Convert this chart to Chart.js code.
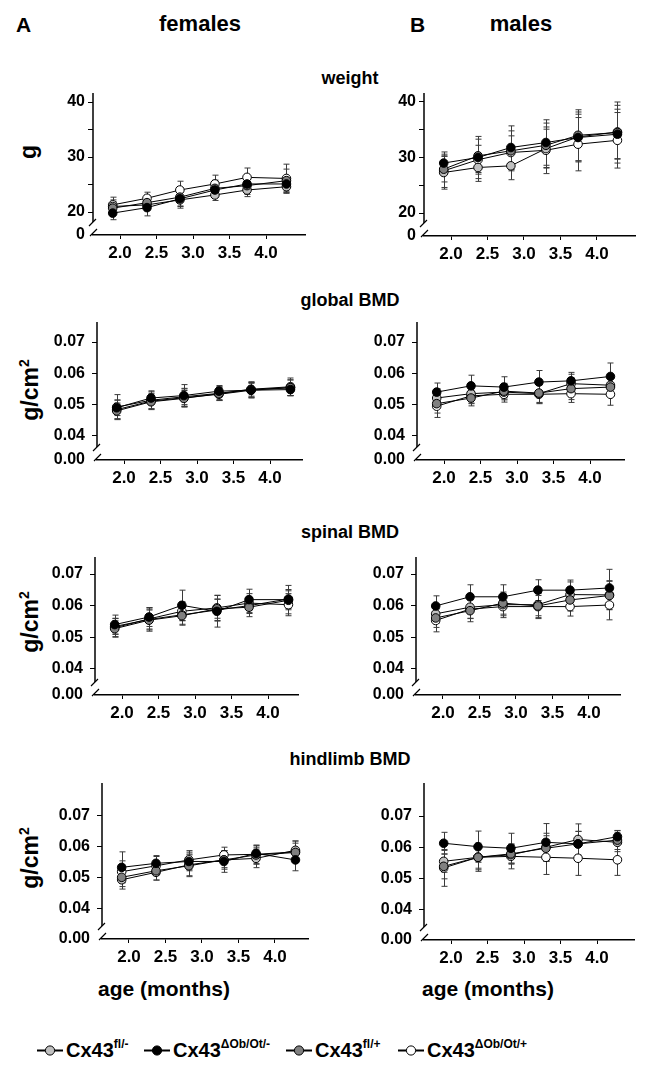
<!DOCTYPE html>
<html>
<head>
<meta charset="utf-8">
<script src="https://cdn.jsdelivr.net/npm/chart.js@4.4.1/dist/chart.umd.min.js"></script>
<style>
  html,body{margin:0;padding:0;background:#fff;}
  #fig{position:relative;width:645px;height:1068px;overflow:hidden;background:#fff;
       font-family:"Liberation Sans",Arial,Helvetica,sans-serif;font-weight:bold;color:#000;}
  .t{position:absolute;white-space:nowrap;line-height:1;transform:translate(-50%,-50%);}
  .tl{position:absolute;white-space:nowrap;line-height:1;transform:translate(0,-50%);}
  .yt{position:absolute;white-space:nowrap;line-height:1;transform:translate(-50%,-50%) rotate(-90deg);font-size:23px;}
  .yt sup{font-size:14px;vertical-align:9px;line-height:0;}
  canvas{position:absolute;}
  .leg{position:absolute;display:flex;align-items:center;font-size:20px;white-space:nowrap;transform:translate(0,-50%);}
  .leg sup{font-size:12px;vertical-align:9px;line-height:0;}
  .leg svg{margin-right:3px;}
</style>
</head>
<body>
<div id="fig">
  <div class="tl" style="left:16px;top:24px;font-size:21px;">A</div>
  <div class="t" style="left:200px;top:24px;font-size:22px;">females</div>
  <div class="tl" style="left:410px;top:24px;font-size:21px;">B</div>
  <div class="t" style="left:521px;top:24px;font-size:22px;">males</div>

  <div class="t" style="left:350px;top:78px;font-size:18px;">weight</div>
  <div class="t" style="left:350px;top:300px;font-size:18px;">global BMD</div>
  <div class="t" style="left:350px;top:532px;font-size:18px;">spinal BMD</div>
  <div class="t" style="left:350px;top:759px;font-size:18px;">hindlimb BMD</div>

  <div class="yt" style="left:28px;top:152px;">g</div>
  <div class="yt" style="left:30px;top:390px;">g/cm<sup>2</sup></div>
  <div class="yt" style="left:30px;top:622px;">g/cm<sup>2</sup></div>
  <div class="yt" style="left:30px;top:858px;">g/cm<sup>2</sup></div>

  <div class="t" style="left:164px;top:988px;font-size:21px;">age (months)</div>
  <div class="t" style="left:488px;top:988px;font-size:21px;">age (months)</div>
</div>

<script>
// ---------------- DATA ----------------
const ages = [1.9, 2.37, 2.82, 3.3, 3.74, 4.28];          // months
const xTickValues = [2.0, 2.5, 3.0, 3.5, 4.0];
const weightTickValues = [20, 25, 30, 35, 40];
const weightTickLabelled = [20, 30, 40];
const bmdTickValues = [0.04, 0.05, 0.06, 0.07];

const seriesBase = ['Cx43', 'Cx43', 'Cx43', 'Cx43'];
const seriesSup  = ['fl/-', '\u0394Ob/Ot/-', 'fl/+', '\u0394Ob/Ot/+'];
const seriesFill = ['#c0c0c0', '#000000', '#808080', '#ffffff'];
const legendX    = [37, 144, 286, 398];

// order of inner arrays: [fl/-, ΔOb/Ot/-, fl/+, ΔOb/Ot/+]
const weightFemMean = [
  [21.0, 21.3, 22.2, 23.1, 24.0, 24.6],
  [19.8, 20.8, 22.4, 24.0, 25.1, 25.1],
  [20.7, 21.7, 22.7, 24.3, 24.8, 25.7],
  [21.3, 22.5, 24.0, 25.1, 26.3, 26.1]];
const weightFemSD = [
  [1.2, 1.0, 1.5, 1.0, 1.2, 1.2],
  [1.2, 1.5, 1.4, 1.2, 1.4, 1.3],
  [1.2, 1.3, 1.6, 1.5, 1.6, 2.1],
  [1.4, 1.1, 1.6, 1.6, 1.7, 2.6]];

const weightMaleMean = [
  [27.3, 28.2, 28.5, 31.6, 33.7, 34.6],
  [29.0, 30.0, 31.8, 32.7, 33.6, 34.2],
  [27.9, 30.3, 31.2, 32.2, 34.0, 34.5],
  [27.6, 29.6, 30.9, 31.3, 32.4, 33.1]];
const weightMaleSD = [
  [3.0, 2.5, 2.5, 3.5, 4.5, 4.8],
  [2.0, 3.8, 3.9, 4.1, 4.2, 4.5],
  [2.3, 3.0, 3.6, 4.0, 4.6, 5.5],
  [3.0, 2.6, 3.0, 4.2, 4.8, 5.0]];

const globalFemMean = [
  [0.0484, 0.0511, 0.0522, 0.0533, 0.0546, 0.0554],
  [0.0490, 0.0521, 0.0529, 0.0543, 0.0546, 0.0548],
  [0.0480, 0.0509, 0.0520, 0.0535, 0.0548, 0.0554],
  [0.0492, 0.0514, 0.0525, 0.0536, 0.0549, 0.0557]];
const globalFemSD = [
  [0.0030, 0.0025, 0.0030, 0.0020, 0.0022, 0.0025],
  [0.0025, 0.0020, 0.0035, 0.0018, 0.0025, 0.0020],
  [0.0025, 0.0022, 0.0025, 0.0022, 0.0025, 0.0025],
  [0.0040, 0.0030, 0.0025, 0.0020, 0.0022, 0.0028]];

const globalMaleMean = [
  [0.0521, 0.0535, 0.0540, 0.0535, 0.0567, 0.0562],
  [0.0540, 0.0560, 0.0556, 0.0572, 0.0576, 0.0590],
  [0.0503, 0.0521, 0.0543, 0.0537, 0.0551, 0.0556],
  [0.0495, 0.0528, 0.0533, 0.0533, 0.0535, 0.0533]];
const globalMaleSD = [
  [0.0030, 0.0030, 0.0025, 0.0030, 0.0030, 0.0035],
  [0.0029, 0.0034, 0.0033, 0.0037, 0.0027, 0.0043],
  [0.0030, 0.0025, 0.0025, 0.0030, 0.0035, 0.0030],
  [0.0036, 0.0025, 0.0025, 0.0030, 0.0028, 0.0035]];

const spinalFemMean = [
  [0.0534, 0.0556, 0.0571, 0.0586, 0.0600, 0.0621],
  [0.0540, 0.0564, 0.0601, 0.0582, 0.0619, 0.0619],
  [0.0527, 0.0554, 0.0568, 0.0590, 0.0595, 0.0617],
  [0.0530, 0.0558, 0.0582, 0.0593, 0.0608, 0.0603]];
const spinalFemSD = [
  [0.0025, 0.0030, 0.0030, 0.0035, 0.0025, 0.0030],
  [0.0030, 0.0030, 0.0048, 0.0050, 0.0033, 0.0045],
  [0.0025, 0.0035, 0.0030, 0.0030, 0.0030, 0.0030],
  [0.0030, 0.0035, 0.0030, 0.0040, 0.0030, 0.0035]];

const spinalMaleMean = [
  [0.0574, 0.0595, 0.0603, 0.0603, 0.0635, 0.0634],
  [0.0599, 0.0628, 0.0628, 0.0649, 0.0649, 0.0656],
  [0.0561, 0.0584, 0.0608, 0.0599, 0.0618, 0.0632],
  [0.0553, 0.0589, 0.0597, 0.0597, 0.0597, 0.0602]];
const spinalMaleSD = [
  [0.0030, 0.0035, 0.0035, 0.0035, 0.0040, 0.0045],
  [0.0032, 0.0038, 0.0038, 0.0033, 0.0032, 0.0059],
  [0.0030, 0.0035, 0.0035, 0.0040, 0.0035, 0.0045],
  [0.0036, 0.0030, 0.0035, 0.0035, 0.0030, 0.0047]];

const hindFemMean = [
  [0.0494, 0.0518, 0.0542, 0.0558, 0.0563, 0.0589],
  [0.0534, 0.0547, 0.0553, 0.0553, 0.0579, 0.0558],
  [0.0502, 0.0523, 0.0539, 0.0558, 0.0574, 0.0582],
  [0.0520, 0.0539, 0.0558, 0.0574, 0.0576, 0.0584]];
const hindFemSD = [
  [0.0030, 0.0025, 0.0035, 0.0030, 0.0030, 0.0030],
  [0.0050, 0.0025, 0.0030, 0.0035, 0.0020, 0.0035],
  [0.0030, 0.0030, 0.0035, 0.0025, 0.0030, 0.0030],
  [0.0035, 0.0030, 0.0030, 0.0025, 0.0030, 0.0035]];

const hindMaleMean = [
  [0.0555, 0.0568, 0.0576, 0.0600, 0.0625, 0.0616],
  [0.0613, 0.0602, 0.0597, 0.0616, 0.0611, 0.0634],
  [0.0539, 0.0568, 0.0579, 0.0597, 0.0611, 0.0623],
  [0.0534, 0.0568, 0.0571, 0.0568, 0.0565, 0.0560]];
const hindMaleSD = [
  [0.0035, 0.0040, 0.0030, 0.0045, 0.0050, 0.0030],
  [0.0035, 0.0050, 0.0048, 0.0060, 0.0040, 0.0020],
  [0.0040, 0.0035, 0.0030, 0.0040, 0.0040, 0.0030],
  [0.0059, 0.0045, 0.0040, 0.0055, 0.0055, 0.0050]];

// ---------------- LAYOUT ----------------
const PX_PER_MONTH = 73;
const panelLayout = [
  {mean: weightFemMean,  sd: weightFemSD,  L: 93,  T: 93,  B: 235, R: 305, yMin: 15.82, yMax: 41.64, kind: 'w'},
  {mean: weightMaleMean, sd: weightMaleSD, L: 424, T: 93,  B: 236, R: 635, yMin: 15.86, yMax: 41.62, kind: 'w'},
  {mean: globalFemMean,  sd: globalFemSD,  L: 97,  T: 322, B: 460, R: 302, yMin: 0.0323, yMax: 0.0764, kind: 'b'},
  {mean: globalMaleMean, sd: globalMaleSD, L: 417, T: 322, B: 460, R: 624, yMin: 0.0323, yMax: 0.0764, kind: 'b'},
  {mean: spinalFemMean,  sd: spinalFemSD,  L: 95,  T: 557, B: 695, R: 298, yMin: 0.0317, yMax: 0.0754, kind: 'b'},
  {mean: spinalMaleMean, sd: spinalMaleSD, L: 416, T: 557, B: 695, R: 620, yMin: 0.0317, yMax: 0.0754, kind: 'b'},
  {mean: hindFemMean,    sd: hindFemSD,    L: 102, T: 783, B: 939, R: 308, yMin: 0.0303, yMax: 0.0806, kind: 'b'},
  {mean: hindMaleMean,   sd: hindMaleSD,   L: 424, T: 783, B: 940, R: 634, yMin: 0.0303, yMax: 0.0806, kind: 'b'}
];

const FONT = '"Liberation Sans", Arial, Helvetica, sans-serif';
const drawOrder = [2, 0, 1, 3];

const errorBarsPlugin = {
  id: 'errorBars',
  beforeDatasetsDraw(chart) {
    const ctx = chart.ctx, xs = chart.scales.x, ys = chart.scales.y;
    ctx.save();
    ctx.strokeStyle = '#3a3a3a';
    ctx.lineWidth = 1;
    chart.data.datasets.forEach(ds => {
      ds.data.forEach((pt, j) => {
        const e = ds.errors[j];
        const px = Math.round(xs.getPixelForValue(pt.x)) + 0.5;
        const yt = ys.getPixelForValue(pt.y + e);
        const yb = ys.getPixelForValue(pt.y - e);
        ctx.beginPath();
        ctx.moveTo(px, yt); ctx.lineTo(px, yb);
        ctx.moveTo(px - 3, yt); ctx.lineTo(px + 3, yt);
        ctx.moveTo(px - 3, yb); ctx.lineTo(px + 3, yb);
        ctx.stroke();
      });
    });
    ctx.restore();
  }
};

const axisBreakPlugin = {
  id: 'axisBreak',
  afterDraw(chart) {
    const ctx = chart.ctx, a = chart.chartArea;
    const x = a.left, b = a.bottom;
    ctx.save();
    ctx.strokeStyle = '#000';
    ctx.lineWidth = 1.5;
    ctx.beginPath();
    ctx.moveTo(x, a.top); ctx.lineTo(x, b - 13);
    ctx.stroke();
    ctx.lineWidth = 1.2;
    ctx.beginPath();
    ctx.moveTo(x - 4, b - 9); ctx.lineTo(x + 3, b - 16);
    ctx.moveTo(x - 3, b + 1); ctx.lineTo(x + 4, b - 6);
    ctx.stroke();
    ctx.restore();
  }
};

const fig = document.getElementById('fig');
const PAD_L = 80, PAD_R = 8, PAD_T = 8, PAD_B = 44;

panelLayout.forEach(p => {
  const cv = document.createElement('canvas');
  const w = (p.R - p.L) + PAD_L + PAD_R;
  const h = (p.B - p.T) + PAD_T + PAD_B;
  cv.width = w; cv.height = h;
  cv.style.left = (p.L - PAD_L) + 'px';
  cv.style.top = (p.T - PAD_T) + 'px';
  cv.style.width = w + 'px'; cv.style.height = h + 'px';
  fig.appendChild(cv);

  const xMin = 2.0 - 27 / PX_PER_MONTH;
  const xMax = xMin + (p.R - p.L) / PX_PER_MONTH;
  const isW = p.kind === 'w';
  const yTicks = isW ? weightTickValues : bmdTickValues;

  const datasets = p.mean.map((m, i) => ({
    label: seriesBase[i] + seriesSup[i],
    data: ages.map((a, j) => ({x: a, y: m[j]})),
    errors: p.sd[i],
    borderColor: '#000',
    borderWidth: 1,
    pointRadius: 4.3,
    pointBackgroundColor: seriesFill[i],
    pointBorderColor: '#000',
    pointBorderWidth: 1,
    tension: 0,
    fill: false,
    order: drawOrder[i]
  }));

  new Chart(cv, {
    type: 'line',
    data: {datasets},
    options: {
      responsive: false,
      animation: false,
      events: [],
      devicePixelRatio: 1,
      layout: {padding: {left: 0, right: PAD_R, top: PAD_T, bottom: 0}},
      plugins: {legend: {display: false}, tooltip: {enabled: false}, title: {display: false}},
      scales: {
        x: {
          type: 'linear', min: xMin, max: xMax,
          afterBuildTicks: s => { s.ticks = xTickValues.map(v => ({value: v})); },
          afterFit: s => { s.height = PAD_B; s.paddingLeft = 0; s.paddingRight = 0; },
          ticks: {callback: v => Number(v).toFixed(1), color: '#000', padding: 4, autoSkip: false, maxRotation: 0,
                  font: {family: FONT, size: 17, weight: 'bold'}},
          grid: {drawOnChartArea: false, drawTicks: true, tickLength: 4, color: '#000', lineWidth: 1},
          border: {display: true, color: '#000', width: 1.5}
        },
        y: {
          type: 'linear', min: p.yMin, max: p.yMax,
          afterBuildTicks: s => { s.ticks = [{value: p.yMin}].concat(yTicks.map(v => ({value: v}))); },
          afterFit: s => { s.width = PAD_L; s.paddingTop = 0; s.paddingBottom = 0; },
          ticks: {
            callback: (v, idx) => {
              if (idx === 0) return isW ? '0' : '0.00';
              if (isW) return weightTickLabelled.some(t => Math.abs(t - v) < 1e-6) ? String(Math.round(v)) : '';
              return Number(v).toFixed(2);
            },
            color: '#000', padding: isW ? 3 : 7, autoSkip: false,
            font: {family: FONT, size: 16, weight: 'bold'}
          },
          grid: {drawOnChartArea: false, drawTicks: true, tickLength: 5, lineWidth: 1,
                 color: c => (c.index === 0 ? 'rgba(0,0,0,0)' : '#000')},
          border: {display: false}
        }
      }
    },
    plugins: [errorBarsPlugin, axisBreakPlugin]
  });
});

// ---------------- LEGEND ----------------
seriesSup.forEach((sup, i) => {
  const d = document.createElement('div');
  d.className = 'leg';
  d.style.left = legendX[i] + 'px';
  d.style.top = '1050px';
  d.innerHTML = '<svg width="26" height="12" viewBox="0 0 26 12">' +
    '<line x1="0" y1="6" x2="26" y2="6" stroke="#000" stroke-width="2"/>' +
    '<circle cx="13" cy="6" r="4.6" fill="' + seriesFill[i] + '" stroke="#000" stroke-width="1"/></svg>' +
    '<span>' + seriesBase[i] + '<sup>' + sup + '</sup></span>';
  fig.appendChild(d);
});
</script>
</body>
</html>
